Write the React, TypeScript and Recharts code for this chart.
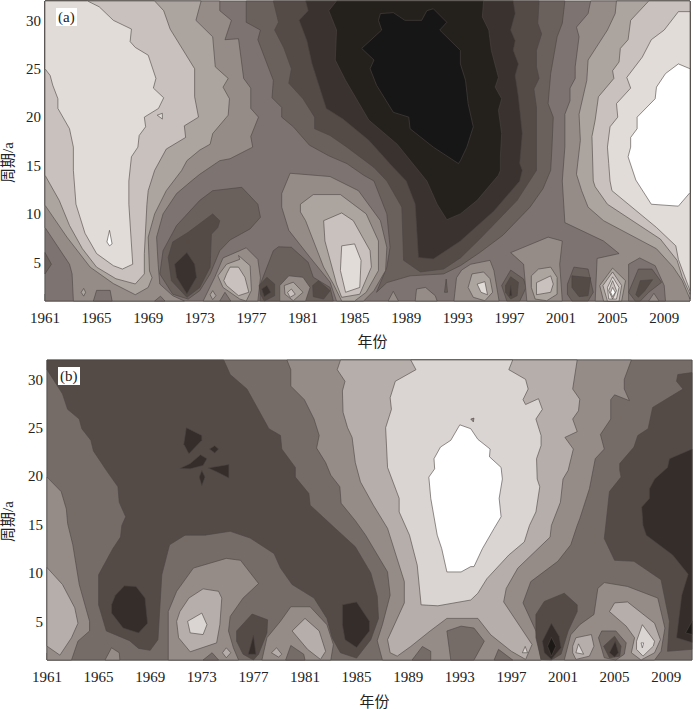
import React from "react"
import { Label, Scatter, ScatterChart, XAxis, YAxis } from "recharts"

type Pt = [number, number] // [year, period]
type Layer = [number, Pt[]] // [contour level, outline]

const yearTicks = [1961, 1965, 1969, 1973, 1977, 1981, 1985, 1989, 1993, 1997, 2001, 2005, 2009]
const periodTicks = [5, 10, 15, 20, 25, 30]
const yearRange = [1961, 2011]
const periodRange = [1, 32]
const fullFrame: Pt[] = [[1961, 1], [2011, 1], [2011, 32], [1961, 32]]

// panel (a) contour levels, light to dark
const shadesA = ["#ffffff", "#e2dcd9", "#c8c1bd", "#aba49f", "#958c88", "#7d7370", "#6a605c", "#544b47", "#3a322e", "#24201c", "#161616"]

const aLeft4: Pt[] = [[1974.55,32],[1974.55,31],[1975.45,30],[1974.95,28],[1976,28.1],[1976.4,24],[1976.95,23],[1976.95,20.9],[1977.55,20],[1976.95,18],[1977.1,16.9],[1975.34,15.7],[1974.55,15.5],[1973,14.1],[1972.35,13.4],[1971.2,12.1],[1970.15,10],[1969.65,7.6],[1969.77,4.8],[1969.9,2.75],[1970.9,1.55],[1971.8,1],[1963.2,1],[1963.1,3.8],[1962.9,4.8],[1961,8.6],[1961,32]]
const aLeft3: Pt[] = [[1973.1,32],[1972.7,30],[1974,28.3],[1974.2,25.2],[1975.2,24],[1974.8,23.1],[1975.3,21.9],[1975.2,20.2],[1974,18.3],[1973.8,17.2],[1973,16.6],[1972,15.5],[1971.6,14.5],[1970.4,12.4],[1969.5,10],[1969,7.6],[1969.1,4.1],[1969.3,3.4],[1969,2.4],[1968,1.65],[1966.3,2.8],[1964.5,4.5],[1962.7,7.6],[1961,10.9],[1961,32]]
const aLeft2: Pt[] = [[1969.5,32],[1970.2,31],[1970.7,29.1],[1972.6,25],[1972.6,22.1],[1972.9,20],[1971.8,19.1],[1971.9,17.9],[1970.4,16.7],[1969.5,14.5],[1969,12.4],[1968.9,11],[1968.7,5.9],[1968.7,3.8],[1968,2.76],[1966.5,3.3],[1965,4.5],[1963.9,6.4],[1962.9,8.8],[1962.1,11.4],[1961,14],[1961,32]]
const aLeft1: Pt[] = [[1964.3,32],[1965.2,31.4],[1966.3,30],[1967.7,29.1],[1967.6,27.8],[1968,27.2],[1969,26.4],[1969.6,24],[1969.4,23],[1970.2,22],[1969.8,20.9],[1968.7,20],[1968.8,19],[1968.3,18.1],[1968.2,16.9],[1967.7,15.9],[1967.5,13.4],[1967.5,11],[1967.8,4.8],[1967,4.3],[1966.3,4.65],[1965,5.9],[1964.1,8],[1963.4,11],[1963.2,14.5],[1963.2,16.9],[1962.9,18.8],[1962,20.9],[1962,21.9],[1961.6,23.3],[1961.4,24.3],[1961,25],[1961,32]]
const aDrop: Pt[] = [[1966,8.3],[1966.2,6.9],[1966,6.7],[1965.8,7.1]]
const aSpeck: Pt[] = [[1969.7,20.2],[1970.1,20.4],[1970.1,19.8]]
const aLeftEdge: Pt[] = [[1961,6],[1961.5,4.8],[1961,3.8]]
const aBumpA: Pt[] = [[1964.75,1],[1965,2.1],[1966.05,2.1],[1966.2,1]]
const aDiamondA: Pt[] = [[1963.8,1.9],[1964,2.3],[1964.15,1.9],[1964,1.5]]
const aBumpB: Pt[] = [[1969.5,1],[1969.95,1.5],[1970.3,1]]

const aLow6: Pt[] = [[1976.25,12.75],[1977.5,11],[1977.7,9.65],[1976.9,8.45],[1975.34,7.3],[1974.55,6.2],[1973.8,3.8],[1973,2.07],[1972.1,1.2],[1970.9,1.7],[1969.9,3.8],[1970.15,6.2],[1971.2,8.8],[1973,11.4],[1974,12.4]]
const aLow7: Pt[] = [[1970.55,5.5],[1970.9,7.1],[1972.1,8.1],[1974,10],[1974.55,9.3],[1974.4,8.6],[1973.9,7.9],[1973.8,4.5],[1973,2.4],[1972,1.38],[1970.8,3.1]]
const aLow8: Pt[] = [[1971.05,4.8],[1972,6],[1972.6,4.8],[1972.75,3.45],[1972,1.72],[1971.2,3.45]]

const aBlob76a: Pt[] = [[1973.26,1],[1974.16,3.45],[1974.8,5.45],[1976.1,6.2],[1976.6,6.5],[1977.5,5.3],[1977.7,3.4],[1977.5,1]]
const aBlob76b: Pt[] = [[1976.1,5.3],[1975.07,4.8],[1974.4,3.6],[1974.8,2.4],[1976.1,1.2],[1976.6,1],[1977,2.1],[1976.9,4.65],[1976,5.7]]
const aBlob76c: Pt[] = [[1975.07,3.8],[1974.86,3.1],[1975.07,2.6],[1976,1.55],[1976.8,1.9],[1976.5,3.45],[1976,4.5],[1975.34,4.5]]
const aBump75: Pt[] = [[1974.55,1],[1974.95,1.9],[1975.4,1]]
const aDiamond74: Pt[] = [[1973.8,1.65],[1974,2.07],[1974.25,1.55],[1974,1.14]]

const aHump: Pt[] = [[1977.67,1],[1977.7,2.75],[1978.7,6.2],[1979.1,6.6],[1980.1,6.55],[1981.4,5],[1981.8,3.45],[1983.1,2.4],[1983.35,1]]
const aSpot78a: Pt[] = [[1977.6,2.6],[1978.2,3.45],[1978.8,2.75],[1978.8,1.55],[1978,1],[1977.7,1.7]]
const aSpot78b: Pt[] = [[1977.8,2.24],[1978.2,2.6],[1978.5,1.9],[1978,1.45]]
const aMid4: Pt[] = [[1979.2,1],[1979.2,2.6],[1979.9,3.6],[1981,3.45],[1981.55,2.4],[1981.2,1]]
const aMid3: Pt[] = [[1979.55,2.6],[1980.25,2.95],[1981,1.9],[1980.25,1.03],[1979.6,1.7]]
const aMid2: Pt[] = [[1979.8,1.9],[1980.1,2.24],[1980.4,1.7],[1980,1.38]]
const aSpot82: Pt[] = [[1981.75,2.6],[1982.2,3.1],[1983.1,2.07],[1982.6,1.2],[1981.8,1.45]]

const aCore6: Pt[] = [[1976.6,32],[1976.6,29.8],[1977.7,29],[1977.5,28],[1978.7,23.8],[1978.6,22],[1979.35,21],[1979.35,20],[1980.25,19],[1981.5,17.1],[1983,16],[1984.4,15.2],[1985.7,14],[1986.5,13.4],[1987.5,10],[1987.75,6.55],[1987.5,4.5],[1986.7,1.9],[1987.5,2.9],[1989.3,3.6],[1991.9,3.8],[1993.2,4.65],[1994.7,6],[1996.5,7.8],[1998.6,10.7],[1999.6,12.6],[2000.2,14.5],[2000.3,16.9],[2000.4,20],[2000,21.4],[2000.2,24.5],[2000.7,28.3],[2001.1,29.7],[2001.3,32]]
const aCore7: Pt[] = [[1978.7,32],[1979.1,29.8],[1978.8,29],[1979.5,27.2],[1980.1,25],[1979.9,23.5],[1981,21.9],[1981.9,20],[1981.9,18.8],[1983.1,18.1],[1984.4,16.9],[1986.5,14.8],[1987.5,13.4],[1988.66,10.7],[1988.8,5.2],[1990.1,4],[1991.9,4.3],[1993.2,5.45],[1994.7,7.4],[1997.6,11.4],[1999.1,14.5],[1999.1,15.5],[1999.1,21],[1998.9,22.9],[1999.3,24],[1999.1,25.2],[1999.1,26.9],[1999.5,28.6],[1999.2,29.7],[1999.3,32]]
const aCore8: Pt[] = [[1981.2,32],[1981.4,31],[1980.7,30],[1981.3,27.9],[1981.7,25.5],[1982.8,20.9],[1984.1,19.8],[1986.1,17.6],[1988,14.8],[1989,13.4],[1989.7,11],[1989.95,5.5],[1991.1,5.34],[1993.2,7.2],[1995.8,10.3],[1997.8,13.4],[1998,14.5],[1997.8,15.2],[1998,18.3],[1997.7,22.1],[1997.45,24.3],[1997.7,25.5],[1997.3,26.9],[1997.45,27.9],[1997.1,29],[1997.45,30.7],[1997.3,32]]
const aCore9: Pt[] = [[1983.6,32],[1983,31],[1983.6,29],[1983.5,25.9],[1984.3,23.8],[1986.1,19.7],[1988.3,17.2],[1990.6,13.4],[1991.4,11],[1992.15,9.4],[1993.2,10],[1994.5,11.4],[1996.15,14],[1996.3,14.5],[1996.3,15.9],[1996.4,18.3],[1996.15,20.7],[1996.4,21.9],[1995.9,23.1],[1996.15,24.1],[1995.6,26.9],[1995.4,29],[1994.9,30.35],[1995,32]]
const aCore10: Pt[] = [[1987,30.7],[1988,30.8],[1988.9,30],[1990.2,30],[1990.6,31],[1991.1,31.2],[1992.15,29.8],[1991.6,29],[1993.2,26.9],[1993.2,25.5],[1993.6,23.8],[1993.8,21.4],[1994.2,19],[1993.7,16.9],[1993.2,15.5],[1993.05,15.2],[1991.1,16.9],[1989.3,18.8],[1989.2,20],[1988,20.5],[1986.7,23.3],[1986.2,25],[1986.5,25.9],[1985.55,27.1],[1987.1,29],[1986.85,30]]

const aLobe4: Pt[] = [[1980,14.2],[1983.1,13.86],[1985.3,12.4],[1987,9.3],[1987.5,6.55],[1987.4,4.15],[1986.5,2.07],[1985.7,1],[1983.6,1],[1983.1,2.95],[1981.55,5.5],[1979.9,8.3],[1979.35,10.7],[1979.35,12.1]]
const aLobe3: Pt[] = [[1980.8,11],[1981.8,12],[1983.9,12],[1985.9,10],[1986.85,7.2],[1986.85,4.15],[1985.9,1.9],[1985,1],[1984,1],[1983.35,2.76],[1982.6,4.5],[1981.2,9.3],[1980.8,10.2]]
const aLobe2: Pt[] = [[1982.6,9.3],[1984,10.1],[1984.9,9.3],[1986.2,6.2],[1986.3,4.5],[1985.4,1.7],[1984,1.38],[1983.6,2.76],[1982.7,7.2]]
const aLobe1: Pt[] = [[1984,6.7],[1985,6.9],[1985.5,5.2],[1985.4,2.4],[1984.3,1.9],[1983.9,4.15]]

const aRight4: Pt[] = [[2003.3,32],[2003.1,30.7],[2002.2,29.3],[2002.4,28.3],[2002.1,25.2],[2002.1,24],[2001.7,23],[2001.7,21.7],[2001.3,20.3],[2001.3,16.9],[2001.1,13.4],[2001.3,9.1],[2004.3,7.2],[2005.5,5.9],[2003.8,5.4],[2003.65,1],[2011,1],[2011,32]]
const aRight3: Pt[] = [[2005.3,32],[2005.2,30.7],[2004.6,29],[2003.1,25.9],[2003,23.8],[2002.4,20.3],[2002.5,17.6],[2002.2,14.1],[2002.6,12.4],[2003.1,10.7],[2004.3,9.3],[2008.4,6.4],[2009.7,4.5],[2010.4,3.1],[2011,1.2],[2011,32]]
const aRight2: Pt[] = [[2007.8,32],[2006.4,30],[2006.2,28],[2005.6,27.1],[2005.5,25.7],[2005,24.8],[2005.1,24],[2003.9,22.1],[2003.65,19.7],[2003.4,18],[2003.5,13.4],[2003.65,12.8],[2004.6,11],[2008.7,7.4],[2010,5.2],[2010.4,3.5],[2011,1.7],[2011,32]]
const aRight1: Pt[] = [[2011,30.9],[2010.1,30.9],[2009,29],[2008,28],[2007.3,26.2],[2006.1,24.1],[2006.4,23],[2005.3,21.4],[2005.4,20],[2004.8,19],[2004.6,16.9],[2004.7,15.2],[2004.8,13.4],[2004.95,12.4],[2008.4,8.6],[2009.9,6.7],[2010.1,5.3],[2011,2.07]]
const aRight0: Pt[] = [[2011,25],[2010.1,25.5],[2009.1,24.5],[2008.4,23.1],[2008.3,21.9],[2006.9,20],[2006.9,18.8],[2006.4,17.9],[2006.4,16.9],[2006.2,15.9],[2006.8,13.5],[2008,11],[2010.1,10.8],[2011,12.2]]

const aBump88: Pt[] = [[1987.6,1],[1988,2],[1988.4,1]]
const aBump90: Pt[] = [[1989.7,1],[1989.8,2.24],[1990.5,2.4],[1991.25,1.55],[1991.4,1]]
const aDash92: Pt[] = [[1991.97,1.9],[1992.1,3.27],[1992.2,1.9]]
const aBlob94a: Pt[] = [[1992.7,1],[1992.9,3.4],[1993.3,4.2],[1994,4.8],[1995.5,5.2],[1995.8,4.15],[1996.2,1]]
const aBlob94b: Pt[] = [[1993.8,2.4],[1994.1,3.8],[1995,4],[1995.5,3.3],[1995.7,1.9],[1995.1,1.03],[1994.2,1.38]]
const aBlob94c: Pt[] = [[1994.5,2.75],[1995.1,3],[1995.3,1.65],[1994.8,1.9]]
const aSpot97a: Pt[] = [[1996.4,2.6],[1997.1,4.2],[1998.1,3.27],[1998.3,2.4],[1997.8,1],[1996.8,1]]
const aSpot97b: Pt[] = [[1996.7,2.6],[1997.1,3.5],[1997.7,2.93],[1997.6,1.55],[1997.1,1.2],[1996.7,1.9]]
const aSpot97c: Pt[] = [[1997,1.55],[1997.1,2.6],[1997.2,1.55]]
const aPatch99a: Pt[] = [[1997.1,6],[2000,7.6],[2001.1,7.2],[2000.9,4.8],[2001.1,1],[1998.35,1],[1998.1,4.8]]
const aPatch99b: Pt[] = [[1998.7,3.6],[1999.25,4.3],[2000.2,4.5],[2000.7,3.45],[2000.7,1.7],[1999.9,1.03],[1999,1.2],[1998.7,2.4]]
const aPatch99c: Pt[] = [[1999.1,2.9],[2000.2,3.6],[2000.4,2.75],[2000.2,1.9],[1999.1,1.65]]
const aSpot02a: Pt[] = [[2001.5,2.75],[2002,4.5],[2003.1,4.3],[2003.5,1.9],[2003.1,1],[2001.85,1],[2001.5,1.7]]
const aSpot02b: Pt[] = [[2001.85,3.6],[2003.3,3.4],[2003.1,1.55],[2002.4,1.45],[2001.85,2.4]]
const aEye3: Pt[] = [[2004,2.6],[2005,4.4],[2006,3.1],[2005.7,1],[2004.3,1]]
const aEye2: Pt[] = [[2004.25,2.6],[2005,4],[2005.7,2.6],[2005.5,1],[2004.6,1]]
const aEye1: Pt[] = [[2004.6,2.4],[2005,3.5],[2005.5,2.4],[2005.3,1.2],[2004.7,1.2]]
const aEyeRing: Pt[] = [[2004.7,2.07],[2005,3.1],[2005.3,2.07],[2005,1.2]]
const aEye0: Pt[] = [[2004.85,1.9],[2005,2.4],[2005.2,1.9],[2005,1.45]]
const aSpot07a: Pt[] = [[2006.24,1],[2006.24,4.8],[2007.1,5.45],[2008.3,4.65],[2009,2.6],[2009.1,1]]
const aSpot07b: Pt[] = [[2006.24,1.9],[2007,4.3],[2008.05,4.3],[2008.8,2.93],[2007.8,1.9],[2007.15,1],[2006.75,1]]
const aSpot07c: Pt[] = [[2006.8,1.65],[2007.15,3.1],[2008.1,3.2],[2007.5,2.07],[2007,1.38]]
const aTri08: Pt[] = [[2007.8,1],[2008.2,1.8],[2008.6,1]]

const layersA: Layer[] = [
  [5, fullFrame],
  [4, aLeft4], [3, aLeft3], [2, aLeft2], [1, aLeft1], [0, aDrop], [1, aSpeck],
  [6, aLeftEdge], [5, aBumpA], [3, aDiamondA], [5, aBumpB],
  [6, aLow6], [7, aLow7], [8, aLow8],
  [4, aBlob76a], [3, aBlob76b], [2, aBlob76c], [5, aBump75], [3, aDiamond74],
  [6, aHump], [7, aSpot78a], [8, aSpot78b], [4, aMid4], [3, aMid3], [2, aMid2], [7, aSpot82],
  [6, aCore6], [7, aCore7], [8, aCore8], [9, aCore9], [10, aCore10],
  [4, aLobe4], [3, aLobe3], [2, aLobe2], [1, aLobe1],
  [4, aRight4], [3, aRight3], [2, aRight2], [1, aRight1], [0, aRight0],
  [4, aBump88], [4, aBump90], [6, aDash92],
  [4, aBlob94a], [3, aBlob94b], [1, aBlob94c],
  [6, aSpot97a], [7, aSpot97b], [8, aSpot97c],
  [4, aPatch99a], [3, aPatch99b], [2, aPatch99c],
  [6, aSpot02a], [7, aSpot02b],
  [3, aEye3], [2, aEye2], [1, aEye1], [2, aEyeRing], [0, aEye0],
  [5, aSpot07a], [6, aSpot07b], [7, aSpot07c], [4, aTri08],
]

// panel (b) contour levels, light to dark
const shadesB = ["#ffffff", "#dad4d2", "#b6aeaa", "#958c88", "#756b67", "#544b47", "#352d2a", "#1c1916"]

const bLeft3: Pt[] = [[1961,19.9],[1962.1,18.4],[1962.5,16.6],[1962.6,15.1],[1963,12.9],[1963.5,8.8],[1964.3,5],[1964.3,4],[1963.4,2.95],[1962.9,1],[1961,1]]
const bLeft2: Pt[] = [[1961,10.55],[1962.2,8.8],[1963.15,6.4],[1963.4,4.8],[1962.9,3.3],[1962,1.5],[1961,2.43]]
const bDark5: Pt[] = [[1961,32],[1961,31],[1962.2,28.5],[1962.6,26.9],[1963.5,25.9],[1963.7,24.9],[1964.4,23.7],[1964.6,22.6],[1965.6,20.6],[1966.5,18.9],[1966.6,17.3],[1967.1,15.8],[1966.8,14.9],[1966.7,13.7],[1966.1,12.5],[1965,9.8],[1965,6.7],[1965.6,4],[1967.4,3],[1968.1,2.2],[1969,2],[1969.6,3.1],[1969.9,9.8],[1970.5,12.9],[1971.7,13.9],[1973.25,13.9],[1975.2,14.3],[1976.75,13.6],[1978.6,12],[1979.1,10.5],[1980,8.8],[1981.7,7.4],[1982.7,5.3],[1983.1,3.3],[1983.75,1.75],[1985,1.2],[1986.1,3.1],[1986.7,5.3],[1986.6,7.6],[1986.1,10],[1984.9,12.7],[1983.1,14.9],[1981.4,17],[1981.3,18.2],[1980.25,19.9],[1980.25,20.9],[1979.2,22.8],[1979.1,24.2],[1978.2,24.9],[1976.5,29],[1975.2,30.5],[1974.7,32]]
const bCellA: Pt[] = [[1971.8,25],[1973,24.2],[1973,23.7],[1972,22.3],[1971.6,23.3]]
const bCellB: Pt[] = [[1971.3,20.8],[1972.1,21.3],[1972.9,22.2],[1973.4,21.8],[1973.1,21.1],[1972.1,20.75]]
const bCellC: Pt[] = [[1973.6,22.8],[1974,23.15],[1974.3,22.8],[1974,22.4]]
const bCellD: Pt[] = [[1973.5,20.85],[1975.1,21.2],[1975.1,19.8],[1974.3,20.35]]
const bCellE: Pt[] = [[1973,20.6],[1973.25,19.9],[1973,19],[1972.8,19.9]]
const bBlob68: Pt[] = [[1966,6.7],[1966.3,7.7],[1967,8.66],[1967.9,8.6],[1968.6,7.4],[1968.8,4.8],[1968.1,3.8],[1966.9,4.3],[1966,5.85]]
const bBlob85: Pt[] = [[1983.9,6.7],[1985,7],[1986,5],[1986,4],[1985,2.3],[1984.1,3.1],[1983.9,4.65]]
const bBump66: Pt[] = [[1965.5,1],[1966,2.26],[1966.6,1.75],[1966.65,1]]
const bLobe3: Pt[] = [[1970.4,1],[1970.4,6],[1971.05,8.1],[1972.35,10.5],[1974.9,11.5],[1976,11.3],[1977.4,8.9],[1976.2,7.4],[1975.2,5.5],[1975.07,4],[1975.45,2.26],[1975.85,1]]
const bLobe2: Pt[] = [[1971.05,5],[1971.3,6],[1972,7.4],[1973.1,8.35],[1974.3,8.1],[1974.55,7.4],[1974.4,4.65],[1974.15,2.77],[1972.1,1.85],[1971.2,3.3]]
const bLobe1: Pt[] = [[1971.9,5],[1973,5.85],[1973.4,4.65],[1973.1,3.63],[1972.1,3.8]]
const bTri74: Pt[] = [[1973.1,1],[1973.8,1.75],[1974.3,1]]
const bDiamond75: Pt[] = [[1974.6,1.75],[1974.9,2.26],[1975.25,1.75],[1974.9,1.23]]
const bBlob77a: Pt[] = [[1975.7,4],[1976.9,5.75],[1978.1,5.15],[1978.05,3.8],[1977.4,1.6],[1977,1],[1976.2,1.6],[1975.7,2.94]]
const bBlob77b: Pt[] = [[1976.6,1.6],[1977,3.56],[1977.2,1.6]]
const bBlob80a: Pt[] = [[1977.66,1],[1978.05,3.3],[1979.1,5],[1979.9,6.5],[1981.4,6.5],[1982.7,4.65],[1983.2,2.6],[1983,1]]
const bBlob80b: Pt[] = [[1980,4],[1981,5.3],[1982.1,4],[1982.6,1.9],[1982.2,1.06],[1981.2,2.1]]
const bTiny79: Pt[] = [[1978.4,1.75],[1978.8,2.26],[1979.2,1.6],[1978.95,1.3]]
const bBump80: Pt[] = [[1979.5,1],[1979.9,2.5],[1980.9,1.6],[1981,1]]
const bCore3: Pt[] = [[1979.6,32],[1979.9,31],[1979.9,29.3],[1980.95,27.9],[1981.7,25.9],[1982.1,24.2],[1981.9,22.9],[1982.6,21.4],[1983,20.1],[1983.7,18.9],[1983.8,17.2],[1984.9,15.4],[1985.7,13.9],[1987.4,10.1],[1987.6,7.7],[1987,4.65],[1986.6,3],[1987,1],[1999.3,1],[1998.9,4],[1997.9,6.9],[1998.5,9.1],[2000.6,11.2],[2001.6,12.9],[2002.1,14.9],[2002.3,15.6],[2003.05,18.7],[2003.5,21.8],[2004.2,22.8],[2003.9,24.3],[2004.7,25.9],[2004.7,27.9],[2005,28.4],[2006.15,27.8],[2005.75,29],[2005.75,30],[2006.3,32]]
const bCore2: Pt[] = [[1983.75,32],[1983.5,31],[1984.1,29.8],[1983.9,28.8],[1983.95,26.6],[1984.3,25],[1984.65,24],[1984.9,21.4],[1985.3,19.4],[1986.3,17],[1987.4,14.6],[1988.7,9.1],[1988.7,6.9],[1987.4,3.1],[1987.6,1.75],[1988.15,1.4],[1989.2,2.4],[1990.7,4],[1992,5.3],[1994.4,5.3],[1995.4,3.6],[1997,1.9],[1998.1,1.06],[1998.6,2.6],[1996.4,7],[1996.6,8.4],[1997.5,10.5],[2000,13.7],[2000.1,14.9],[2000.8,17.3],[2001,19.7],[2001.4,20.6],[2001.8,22.8],[2001.15,24],[2002.1,24.6],[2001.75,25.9],[2002.2,26.75],[2002.3,27.95],[2001.75,29],[2002.1,32]]
const bCore1: Pt[] = [[1989.2,32],[1989.6,31],[1988,29.8],[1987.6,28.1],[1987.7,26.9],[1987.25,25],[1987.4,20.9],[1988.3,17.7],[1988.3,16.3],[1989.1,13.9],[1989.7,10.8],[1990,6.7],[1991.3,6.6],[1993.85,7.2],[1994.4,7.9],[1995.1,9.4],[1996.8,11.85],[1998,13.2],[1998.4,14.9],[1998.9,16.3],[1999.2,18.9],[1999,19.7],[1998.95,21.8],[1999.3,23.15],[1999.3,24.2],[1998.9,25.9],[1999.4,26.9],[1999.1,28],[1998.1,27.4],[1997.9,27.9],[1998.3,29],[1998.1,30],[1996.8,31],[1997.1,32]]
const bCore0: Pt[] = [[1993,25.3],[1992.3,23.7],[1991.5,23],[1991,21.8],[1991.05,20.75],[1990.6,19.9],[1990.75,17.7],[1991.25,13.9],[1991.6,12.5],[1992,10.1],[1993.1,10.1],[1993.85,10.65],[1994.1,10.65],[1994.75,12.5],[1995.66,14.6],[1996.2,15.8],[1996.05,17.7],[1996.3,19.7],[1996.2,20.9],[1995.3,22],[1995.35,22.8],[1994.4,23.8],[1993.85,24.9]]
const bSpeck: Pt[] = [[1993.85,25.9],[1994.1,26],[1994.05,25.6]]
const bBump90: Pt[] = [[1989.3,1],[1990.1,2.4],[1990.75,1.9],[1990.75,1]]
const bBump93: Pt[] = [[1992,4],[1993.1,4.5],[1994.1,4.3],[1994.9,2.95],[1994.1,1],[1992.3,1]]
const bBump96: Pt[] = [[1995.66,1],[1996,2.1],[1997.1,1]]
const bTip98: Pt[] = [[1997.85,1.75],[1998.07,2.4],[1998.25,1.75]]
const bBlob00a: Pt[] = [[1998.9,5.7],[1999.55,7.05],[2001.1,7.9],[2002.1,6.7],[2002.1,6],[2001.4,4],[2000.85,1.6],[2000.1,1],[1999.3,1.06],[1998.9,3.3]]
const bBlob00b: Pt[] = [[1999.4,2.94],[2000.1,4.8],[2000.7,3.46],[2000.85,2.26],[2000.1,1.06],[1999.55,1.75]]
const bBlob00c: Pt[] = [[1999.8,2.43],[2000.1,3.35],[2000.45,2.43],[2000.1,1.4]]
const bRight5: Pt[] = [[2011,30.7],[2009.9,30.5],[2009.8,29.8],[2010.3,29],[2007.95,27.1],[2007.6,24.9],[2006.8,24.2],[2006.5,23],[2005.4,21.3],[2005.4,20.6],[2005.5,19.9],[2004.6,18.4],[2004.35,15.3],[2004.2,13.56],[2005,11.3],[2006.5,11.2],[2008.6,9.3],[2009.25,5],[2009.1,1.9],[2011,2.1]]
const bRight6: Pt[] = [[2011,22.8],[2009.25,21.8],[2009.1,20.9],[2008.1,19.7],[2007.7,18.7],[2007.7,17.7],[2007.1,16.8],[2007.2,14.9],[2007.45,13.9],[2009.5,11.85],[2010.7,9.86],[2010.2,7.7],[2009.8,3.3],[2011,2.8]]
const bRight7: Pt[] = [[2010.5,3.8],[2011,5],[2011,3.63]]
const bArc3: Pt[] = [[2001.1,1],[2001.6,3.6],[2002.3,4.65],[2003.4,5.7],[2003.7,8.4],[2004.2,9],[2006,8.6],[2008.35,7.4],[2008.9,4.3],[2008.6,1.9],[2008.1,1]]
const bPatch02a: Pt[] = [[2001.75,2.43],[2002,3.3],[2003.2,3.63],[2003.4,2.43],[2003.05,1.4],[2002,1.06],[2001.75,1.75]]
const bPatch02b: Pt[] = [[2002,1.75],[2002.2,2.67],[2002.6,1.6]]
const bRing04a: Pt[] = [[2003.75,3.3],[2004,4],[2005.1,4],[2005.9,2.77],[2005.75,1.6],[2005.1,1],[2004.2,1.23]]
const bRing04b: Pt[] = [[2004.15,2.43],[2005,3.46],[2005.5,2.43],[2005.4,1.4],[2004.6,1.23]]
const bRing04c: Pt[] = [[2004.6,1.75],[2005.05,2.94],[2005.3,1.75],[2005,1.3]]
const bPatch07a: Pt[] = [[2004.6,6],[2005,6.9],[2006,7],[2008.1,4.8],[2008.55,3.1],[2008.1,1.75],[2007.05,1],[2006.3,1.75],[2006.55,3.3],[2005.9,4.5]]
const bPatch07b: Pt[] = [[2006.7,2.94],[2007.15,4.65],[2008.1,2.94],[2008,2.43],[2007.2,1.4],[2006.7,2.1]]
const bPatch07c: Pt[] = [[2007.05,2.77],[2007.25,2.77],[2007.15,2.26]]

const layersB: Layer[] = [
  [4, fullFrame],
  [3, bLeft3], [2, bLeft2],
  [5, bDark5], [6, bCellA], [6, bCellB], [6, bCellC], [6, bCellD], [6, bCellE], [6, bBlob68], [6, bBlob85],
  [3, bBump66],
  [3, bLobe3], [2, bLobe2], [1, bLobe1], [4, bTri74], [2, bDiamond75],
  [5, bBlob77a], [6, bBlob77b],
  [3, bBlob80a], [2, bBlob80b], [2, bTiny79], [4, bBump80],
  [3, bCore3], [2, bCore2], [1, bCore1], [0, bCore0], [3, bSpeck],
  [4, bBump90], [4, bBump93], [4, bBump96], [1, bTip98],
  [5, bBlob00a], [6, bBlob00b], [7, bBlob00c],
  [5, bRight5], [6, bRight6], [7, bRight7],
  [3, bArc3], [2, bPatch02a], [1, bPatch02b],
  [4, bRing04a], [5, bRing04b], [6, bRing04c],
  [2, bPatch07a], [1, bPatch07b], [0, bPatch07c],
]

const serif = "'Liberation Serif', 'Noto Sans CJK SC', serif"

// Scatter hands its scaled points to the line element, so a contour is drawn as a closed path
function ContourFill({ points, shade }: any) {
  const d = points.map((p: any, i: number) => `${i ? "L" : "M"}${p.x},${p.y}`).join("") + "Z"
  return <path d={d} fill={shade} stroke="#4b4441" strokeWidth={0.6} />
}
const NoDot = () => null

function ContourPanel({ layers, shades, tag, top, axisWidth, height, xLabelOffset }: any) {
  return (
    <div style={{ position: "absolute", left: 0, top }}>
      <ScatterChart width={700} height={height} margin={{ top: 0, right: 9 - (axisWidth - 45), bottom: 0, left: 0 }}>
        {layers.map(([level, outline]: Layer, i: number) => (
          <Scatter
            key={i}
            xAxisId="bottom"
            yAxisId="left"
            data={outline.map(([year, period]) => ({ year, period }))}
            line={<ContourFill shade={shades[level]} />}
            shape={NoDot}
            isAnimationActive={false}
          />
        ))}
        <XAxis
          xAxisId="bottom"
          type="number"
          dataKey="year"
          domain={yearRange}
          ticks={yearTicks}
          interval={0}
          height={height - 301}
          tickSize={-7}
          tickMargin={18}
          stroke="#3a3a3a"
          tick={{ fill: "#222", fontSize: 15, fontFamily: serif }}
        >
          <Label value="年份" position="insideBottom" offset={xLabelOffset} dx={5} fill="#222" fontSize={15} fontFamily={serif} />
        </XAxis>
        <XAxis xAxisId="top" orientation="top" type="number" domain={yearRange} ticks={yearTicks} interval={0} height={1} tickSize={-6} stroke="#b5b0ad" tickFormatter={() => ""} />
        <YAxis
          yAxisId="left"
          type="number"
          dataKey="period"
          domain={periodRange}
          ticks={periodTicks}
          interval={0}
          width={axisWidth}
          tickSize={-6}
          tickMargin={10}
          stroke="#777"
          tick={{ fill: "#222", fontSize: 15, fontFamily: serif }}
        >
          <Label value="周期/a" angle={-90} position="insideLeft" offset={8} dy={32} fill="#222" fontSize={15} fontFamily={serif} />
        </YAxis>
        <YAxis yAxisId="right" orientation="right" type="number" domain={periodRange} ticks={periodTicks} interval={0} width={1} tickSize={-6} stroke="#777" tickFormatter={() => ""} />
      </ScatterChart>
      <div style={{ position: "absolute", left: axisWidth + 11, top: 8, background: "#fff", padding: "0 2px", font: `15px/18px ${serif}`, color: "#222" }}>{tag}</div>
    </div>
  )
}

export default function App() {
  return (
    <div style={{ position: "absolute", left: 0, top: 0, width: 700, height: 709, overflow: "hidden" }}>
      <ContourPanel layers={layersA} shades={shadesA} tag="(a)" top={0} axisWidth={45} height={354} xLabelOffset={7} />
      <ContourPanel layers={layersB} shades={shadesB} tag="(b)" top={359} axisWidth={47} height={350} xLabelOffset={2} />
    </div>
  )
}
